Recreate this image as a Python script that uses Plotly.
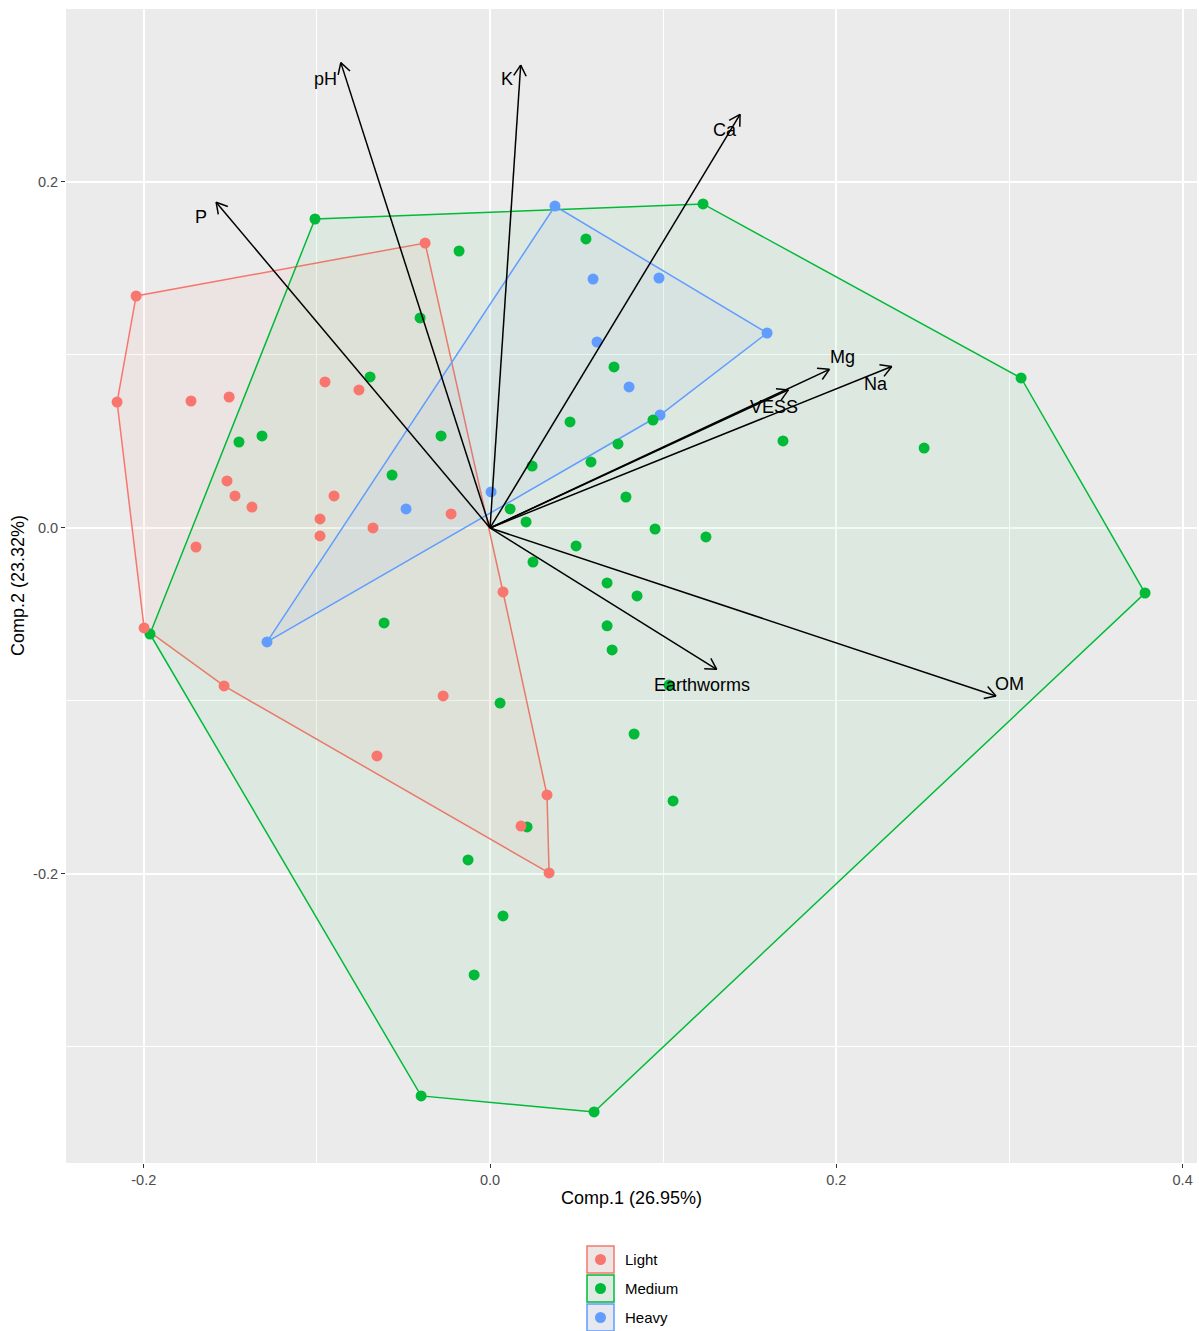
import numpy as np
import plotly.graph_objects as go

# ---- PCA scores by soil texture class ----
light_pc1 = [-0.2044, -0.2154, -0.0375, -0.1727, -0.1507, -0.0953, -0.0757, -0.1519,
             -0.1473, -0.1375, -0.0901, -0.0982, -0.0982, -0.0676, -0.0225, -0.1698,
             -0.1998, -0.1536, 0.0075, -0.0271, -0.0653, 0.0329, 0.0179, 0.0341]
light_pc2 = [0.1341, 0.0728, 0.1647, 0.0734, 0.0757, 0.0844, 0.0798, 0.0272,
             0.0185, 0.0121, 0.0185, 0.0052, -0.0046, 0.0000, 0.0081, -0.0110,
             -0.0578, -0.0913, -0.0370, -0.0971, -0.1318, -0.1543, -0.1723, -0.1994]

medium_pc1 = [-0.1011, 0.1230, -0.0179, 0.0554, -0.0404, 0.0716, -0.0693, -0.1450,
              -0.1317, -0.0283, -0.0566, 0.0462, 0.0941, 0.0739, 0.0583, 0.0243,
              0.1692, 0.2507, 0.3067, 0.0116, 0.0208, 0.0785, 0.0953, 0.1247,
              0.0497, 0.0248, 0.0676, 0.0849, 0.0676, 0.0705, -0.0612, -0.1964,
              0.3783, 0.1034, 0.0058, 0.0832, 0.1057, 0.0214, -0.0127, 0.0075,
              -0.0092, -0.0398, 0.0601]
medium_pc2 = [0.1786, 0.1873, 0.1601, 0.1671, 0.1214, 0.0931, 0.0873, 0.0497,
              0.0532, 0.0532, 0.0306, 0.0613, 0.0624, 0.0486, 0.0382, 0.0358,
              0.0503, 0.0462, 0.0867, 0.0110, 0.0035, 0.0179, -0.0006, -0.0052,
              -0.0104, -0.0197, -0.0318, -0.0393, -0.0566, -0.0705, -0.0549, -0.0613,
              -0.0376, -0.0908, -0.1012, -0.1191, -0.1578, -0.1728, -0.1919, -0.2243,
              -0.2584, -0.3283, -0.3376]

heavy_pc1 = [0.0375, 0.0595, 0.0976, 0.1600, 0.0618, 0.0803, 0.0982, 0.0006, -0.0485, -0.1288]
heavy_pc2 = [0.1861, 0.1439, 0.1445, 0.1127, 0.1075, 0.0815, 0.0653, 0.0208, 0.0110, -0.0659]

# ---- variable loadings ----
variables = ["pH", "K", "Ca", "P", "Mg", "Na", "VESS", "Earthworms", "OM"]
load_pc1 = [-0.0862, 0.0177, 0.1444, -0.1582, 0.1960, 0.2320, 0.1723, 0.1309, 0.2922]
load_pc2 = [0.2690, 0.2676, 0.2391, 0.1883, 0.0917, 0.0933, 0.0798, -0.0817, -0.0971]

# label nudges (pixels) relative to arrow tips
label_shift = {
    "pH": (-15, -16), "K": (-14, -14), "Ca": (-15, -16), "P": (-15, -15),
    "Mg": (13, 12), "Na": (-16, -17), "VESS": (-14, -17),
    "Earthworms": (-15, -16), "OM": (14, 12),
}

groups = ["Light", "Medium", "Heavy"]
colors = {"Light": "#F8766D", "Medium": "#00BA38", "Heavy": "#619CFF"}
fills = {"Light": "rgba(248,118,109,0.06)", "Medium": "rgba(0,186,56,0.06)",
         "Heavy": "rgba(97,156,255,0.06)"}
scores = {"Light": (light_pc1, light_pc2), "Medium": (medium_pc1, medium_pc2),
          "Heavy": (heavy_pc1, heavy_pc2)}

FONT = "Liberation Sans, Arial, Helvetica, sans-serif"
W, H = 1199, 1331
L, R, T, B = 66, 2, 9, 168
XR = [-0.2449, 0.4083]
YR = [-0.3671, 0.3000]


def convex_hull(xs, ys):
    pts = sorted(set(zip(xs, ys)))

    def cross(o, a, b):
        return (a[0] - o[0]) * (b[1] - o[1]) - (a[1] - o[1]) * (b[0] - o[0])

    lower, upper = [], []
    for p in pts:
        while len(lower) >= 2 and cross(lower[-2], lower[-1], p) <= 0:
            lower.pop()
        lower.append(p)
    for p in reversed(pts):
        while len(upper) >= 2 and cross(upper[-2], upper[-1], p) <= 0:
            upper.pop()
        upper.append(p)
    hull = lower[:-1] + upper[:-1]
    hull.append(hull[0])
    return [p[0] for p in hull], [p[1] for p in hull]


fig = go.Figure()

# convex hulls per group
for g in groups:
    hx, hy = convex_hull(*scores[g])
    fig.add_trace(go.Scatter(x=hx, y=hy, mode="lines", fill="toself",
                             fillcolor=fills[g],
                             line=dict(color=colors[g], width=1.5),
                             hoverinfo="skip", showlegend=False))

# score points
for g in ["Heavy", "Medium", "Light"]:
    sx, sy = scores[g]
    fig.add_trace(go.Scatter(x=sx, y=sy, mode="markers", name=g,
                             marker=dict(color=colors[g], size=11, line=dict(width=0)),
                             showlegend=False))

# loading arrows with open heads
head_len = 0.0072
head_ang = np.deg2rad(30)
ax_, ay_ = [], []
for vx, vy in zip(load_pc1, load_pc2):
    ax_ += [0, vx, None]
    ay_ += [0, vy, None]
    ang = np.arctan2(vy, vx)
    for s in (1, -1):
        a = ang + np.pi + s * head_ang
        ax_ += [vx, vx + head_len * np.cos(a), None]
        ay_ += [vy, vy + head_len * np.sin(a), None]
fig.add_trace(go.Scatter(x=ax_, y=ay_, mode="lines",
                         line=dict(color="black", width=1.5),
                         hoverinfo="skip", showlegend=False))

# variable labels
for name, vx, vy in zip(variables, load_pc1, load_pc2):
    dx, dy = label_shift[name]
    fig.add_annotation(x=vx, y=vy, text=name, showarrow=False,
                       xshift=dx, yshift=dy, xanchor="center", yanchor="middle",
                       font=dict(family=FONT, size=18, color="black"))

# pixel -> paper helpers for items outside the panel
PW, PH = W - L - R, H - T - B


def px(x):
    return (x - L) / PW


def py(y):
    return (H - B - y) / PH


# axis titles
fig.add_annotation(x=px(631), y=py(1198), xref="paper", yref="paper",
                   text="Comp.1 (26.95%)", showarrow=False,
                   xanchor="center", yanchor="middle",
                   font=dict(family=FONT, size=18, color="black"))
fig.add_annotation(x=px(18), y=py(586), xref="paper", yref="paper",
                   text="Comp.2 (23.32%)", showarrow=False, textangle=-90,
                   xanchor="center", yanchor="middle",
                   font=dict(family=FONT, size=18, color="black"))

# legend (bottom, centred)
for i, g in enumerate(groups):
    y0 = 1246 + i * 29
    y1 = y0 + 27
    fig.add_shape(type="rect", xref="paper", yref="paper",
                  x0=px(587), x1=px(614), y0=py(y1), y1=py(y0),
                  fillcolor="#EDEDED", line=dict(width=0), layer="above")
    fig.add_shape(type="rect", xref="paper", yref="paper",
                  x0=px(587), x1=px(614), y0=py(y1), y1=py(y0),
                  fillcolor=fills[g], line=dict(color=colors[g], width=1.5),
                  layer="above")
    cx, cy = 600.5, (y0 + y1) / 2
    fig.add_shape(type="circle", xref="paper", yref="paper",
                  x0=px(cx - 5.5), x1=px(cx + 5.5), y0=py(cy + 5.5), y1=py(cy - 5.5),
                  fillcolor=colors[g], line=dict(width=0), layer="above")
    fig.add_annotation(x=px(623), y=py(cy), xref="paper", yref="paper",
                       text=g, showarrow=False, xanchor="left", yanchor="middle",
                       font=dict(family=FONT, size=15, color="black"))

axis_common = dict(
    showgrid=True, gridcolor="white", gridwidth=1.8,
    zeroline=False, showline=False,
    ticks="outside", ticklen=4, tickwidth=1.3, tickcolor="#333333",
    tickfont=dict(family=FONT, size=14.5, color="#4D4D4D"),
)

fig.update_layout(
    width=W, height=H,
    margin=dict(l=L, r=R, t=T, b=B),
    paper_bgcolor="white", plot_bgcolor="#EBEBEB",
    showlegend=False,
    xaxis=dict(range=XR, tickvals=[-0.2, 0.0, 0.2, 0.4],
               ticktext=["-0.2", "0.0", "0.2", "0.4"],
               minor=dict(tickvals=[-0.1, 0.1, 0.3], showgrid=True,
                          gridcolor="white", gridwidth=0.9, ticks=""),
               **axis_common),
    yaxis=dict(range=YR, tickvals=[-0.2, 0.0, 0.2],
               ticktext=["-0.2", "0.0", "0.2"],
               minor=dict(tickvals=[-0.3, -0.1, 0.1], showgrid=True,
                          gridcolor="white", gridwidth=0.9, ticks=""),
               **axis_common),
)

fig.write_html("out.html")
